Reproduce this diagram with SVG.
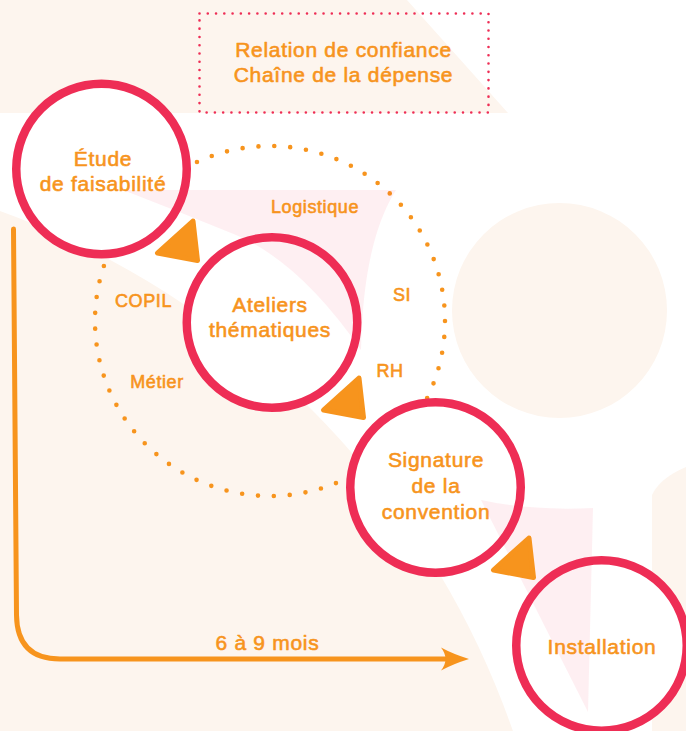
<svg xmlns="http://www.w3.org/2000/svg" width="686" height="731" viewBox="0 0 686 731">
  <defs>
    <style>
      .cream { fill: #FDF5EE; }
      .pink { fill: #EE2D55; fill-opacity: 0.08; }
      .fill { fill: #FFFFFF; }
      .ring { fill: none; stroke: #EE2D55; stroke-width: 8.5; }
      .t { font-family: "Liberation Sans", Arial, sans-serif; font-weight: normal; fill: #F7941D; stroke: #F7941D; stroke-width: 0.6; stroke-linejoin: round; text-anchor: middle; }
      .big { font-size: 21px; letter-spacing: 0.7px; }
      .lbl { font-size: 18px; letter-spacing: 0.6px; }
      .tri { fill: #F7941D; stroke: #F7941D; stroke-width: 5; stroke-linejoin: round; }
    </style>
    <polygon id="triShape" class="tri" points="0,3 -35.5,35 4.5,42.5"/>
  </defs>

  <!-- background -->
  <rect width="686" height="731" fill="#FFFFFF"/>
  <g id="background">
    <polygon class="cream" points="0,0 407,0 508,113 0,113"/>
    <circle class="cream" cx="-290" cy="1010" r="850"/>
    <circle class="cream" cx="559.5" cy="310.5" r="107.5"/>
    <path class="cream" d="M652,731 L652,495 Q660,478 686,467 L686,731 Z"/>
  </g>

  <!-- dotted cycle -->
  <g id="cycle">
    <circle cx="270" cy="321" r="175" fill="none" stroke="#F7941D" stroke-width="4.6" stroke-linecap="round" stroke-dasharray="0 15.936"/>
  </g>

  <!-- circle fills -->
  <g id="fills">
    <circle class="fill" cx="101.5" cy="169" r="85"/>
    <circle class="fill" cx="272" cy="322.5" r="85"/>
    <circle class="fill" cx="435.5" cy="487.5" r="85"/>
    <circle class="fill" cx="601.5" cy="645.5" r="85"/>
  </g>

  <!-- pink wedges -->
  <g id="wedges">
    <path class="pink" d="M123,190 L396,190 Q363,242 361,350 Q300,262 236,235 Q180,212 123,190 Z"/>
    <path class="pink" d="M481,500 Q530,511 593,508 L588,712 Z"/>
  </g>

  <!-- title box -->
  <g id="title">
    <rect x="199.5" y="13.5" width="289" height="99" fill="none" stroke="#EE2D55" stroke-width="2.6" stroke-linecap="round" stroke-dasharray="0 8.27"/>
    <text class="t big" x="343.5" y="57">Relation de confiance</text>
    <text class="t big" x="343.5" y="82">Chaîne de la dépense</text>
  </g>

  <g id="connectors">
    <use href="#triShape" x="193" y="218"/>
    <use href="#triShape" x="359" y="375"/>
    <use href="#triShape" x="529" y="535"/>
    <path d="M13.5,229 L16.5,615 Q17,659 60,659 L456,659" fill="none" stroke="#F7941D" stroke-width="5" stroke-linecap="round" stroke-linejoin="round"/>
    <path d="M469,659 Q453,654 441,647.5 Q450,659 441,670.5 Q453,664 469,659 Z" fill="#F7941D"/>
    <text class="t big" x="267.5" y="650">6 à 9 mois</text>
  </g>

  <g id="node-etude">
    <circle class="ring" cx="101.5" cy="169" r="85.25"/>
    <text class="t big" x="103" y="166">Étude</text>
    <text class="t big" x="103" y="191">de faisabilité</text>
  </g>

  <g id="node-ateliers">
    <circle class="ring" cx="272" cy="322.5" r="85.25"/>
    <text class="t big" x="270" y="312">Ateliers</text>
    <text class="t big" x="270" y="337">thématiques</text>
  </g>

  <g id="node-signature">
    <circle class="ring" cx="435.5" cy="487.5" r="85.25"/>
    <text class="t big" x="436" y="467">Signature</text>
    <text class="t big" x="436" y="493">de la</text>
    <text class="t big" x="436" y="519">convention</text>
  </g>

  <g id="node-installation">
    <circle class="ring" cx="601.5" cy="645.5" r="85.25"/>
    <text class="t big" x="602" y="654">Installation</text>
  </g>

  <g id="labels">
    <text class="t lbl" x="315" y="213">Logistique</text>
    <text class="t lbl" x="143.5" y="307">COPIL</text>
    <text class="t lbl" x="157" y="388">Métier</text>
    <text class="t lbl" x="402" y="301">SI</text>
    <text class="t lbl" x="390" y="377">RH</text>
  </g>
</svg>
